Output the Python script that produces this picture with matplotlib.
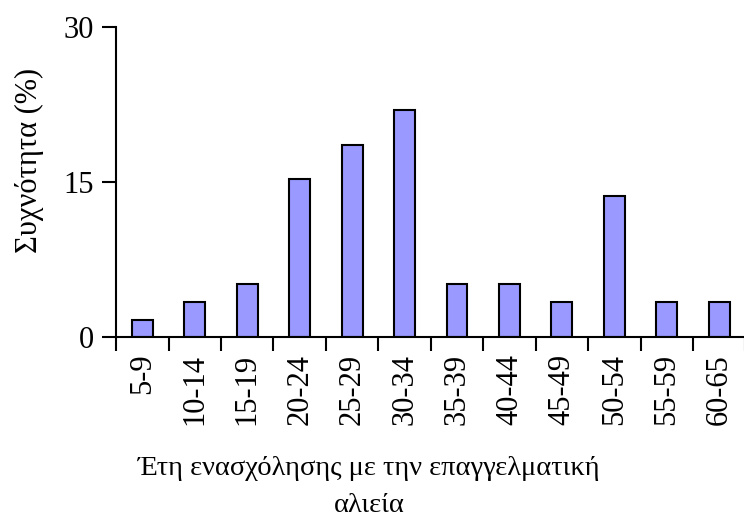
import matplotlib.pyplot as plt
import numpy as np

# years of professional fishing, share of fishers (%)
categories = ['5-9', '10-14', '15-19', '20-24', '25-29', '30-34',
              '35-39', '40-44', '45-49', '50-54', '55-59', '60-65']
frequency = [1.7, 3.4, 5.1, 15.3, 18.6, 22.0, 5.1, 5.1, 3.4, 13.6, 3.4, 3.4]
y_ticks = [0, 15, 30]

plt.rcParams['font.family'] = ['Liberation Serif', 'DejaVu Serif']

fig = plt.figure(figsize=(7.44, 5.17), dpi=100)
ax = fig.add_axes([0.156, 0.348, 0.846, 0.600])

x = np.arange(len(categories))
ax.bar(x, frequency, width=0.4, color='#9999FF', edgecolor='black', linewidth=1.5)

ax.set_xlim(-0.5, len(categories) - 0.5)
ax.set_ylim(0, 30)
ax.set_yticks(y_ticks)
ax.set_yticklabels([str(v) for v in y_ticks], fontsize=22)

# labels at category centres, ticks between categories
ax.set_xticks(x)
ax.set_xticklabels(categories, rotation=90, fontsize=22, va='top')
ax.tick_params(axis='x', which='major', length=0, pad=12)
ax.set_xticks(np.arange(len(categories) + 1) - 0.5, minor=True)
ax.tick_params(axis='x', which='minor', length=10, width=1.5, direction='out')
ax.tick_params(axis='y', length=10, width=1.5, direction='out', pad=6)

for side in ['top', 'right']:
    ax.spines[side].set_visible(False)
for side in ['left', 'bottom']:
    ax.spines[side].set_linewidth(1.5)

ax.set_ylabel('Συχνότητα (%)', fontsize=22, labelpad=10)
ax.yaxis.set_label_coords(-0.114, 0.57)
fig.text(0.496, 0.058, 'Έτη ενασχόλησης με την επαγγελματική\nαλιεία',
         ha='center', va='center', fontsize=20.5, linespacing=1.6)

fig.savefig('out.png', dpi=100)
